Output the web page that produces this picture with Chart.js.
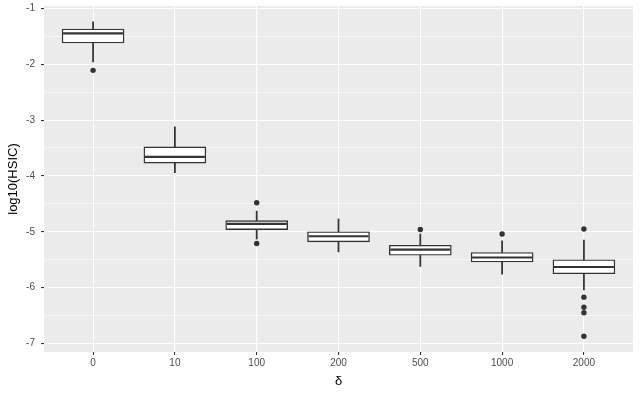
<!DOCTYPE html>
<html>
<head>
<meta charset="utf-8">
<script src="https://cdn.jsdelivr.net/npm/chart.js@4"></script>
<style>
  html, body { margin: 0; padding: 0; background: #fff; }
  #wrap { width: 641px; height: 396px; }
</style>
</head>
<body>
<div id="wrap"><canvas id="c" width="641" height="396"></canvas></div>
<script>
// ═══ DATA ═══
const categories = ["0", "10", "100", "200", "500", "1000", "2000"];
const whiskerLow = [-1.96, -3.94, -5.13, -5.36, -5.62, -5.76, -6.04];
const q1         = [-1.62, -3.77, -4.96, -5.18, -5.42, -5.54, -5.75];
const median     = [-1.45, -3.66, -4.86, -5.08, -5.32, -5.46, -5.63];
const q3         = [-1.37, -3.48, -4.80, -5.00, -5.24, -5.37, -5.50];
const whiskerHigh= [-1.24, -3.12, -4.63, -4.77, -5.04, -5.16, -5.15];
const outliers   = [[-2.11], [], [-4.48, -5.21], [], [-4.96], [-5.04], [-4.95, -6.17, -6.35, -6.45, -6.87]];
const yTicks     = [-7, -6.5, -6, -5.5, -5, -4.5, -4, -3.5, -3, -2.5, -2, -1.5, -1];

// ═══ STYLE ═══
const INK = "#333333";
const FONT = "'Liberation Sans', Arial, sans-serif";

// ggplot-like 5% expansion of the data range
const allVals = [...whiskerLow, ...whiskerHigh, ...outliers.flat()];
const lo = Math.min(...allVals), hi = Math.max(...allVals);
const pad = (hi - lo) * 0.05;

const idx = categories.map((_, i) => i);

const panelBg = {
  id: "panelBg",
  beforeDraw(chart) {
    const { ctx, chartArea: a } = chart;
    ctx.save();
    ctx.fillStyle = "#EBEBEB";
    ctx.fillRect(a.left, a.top, a.right - a.left, a.bottom - a.top);
    ctx.restore();
  }
};

new Chart(document.getElementById("c"), {
  type: "bar",
  data: {
    datasets: [
      // median line
      {
        type: "scatter", order: 0,
        data: idx.map(i => ({ x: i, y: median[i] })),
        pointStyle: "line", radius: 30, borderWidth: 2.2,
        borderColor: INK, backgroundColor: INK
      },
      // outliers
      {
        type: "scatter", order: 0,
        data: outliers.flatMap((arr, i) => arr.map(v => ({ x: i, y: v }))),
        pointStyle: "circle", radius: 2.7, borderWidth: 0,
        backgroundColor: INK
      },
      // box
      {
        order: 1, grouped: false,
        data: idx.map(i => ({ x: i, y: [q1[i], q3[i]] })),
        backgroundColor: "#FFFFFF", borderColor: INK, borderWidth: 1.4,
        borderSkipped: false, barThickness: 62
      },
      // whiskers
      {
        order: 2, grouped: false,
        data: idx.map(i => ({ x: i, y: [whiskerLow[i], q1[i]] })),
        backgroundColor: INK, borderWidth: 0, barThickness: 1.1
      },
      {
        order: 2, grouped: false,
        data: idx.map(i => ({ x: i, y: [q3[i], whiskerHigh[i]] })),
        backgroundColor: INK, borderWidth: 0, barThickness: 1.1
      }
    ]
  },
  options: {
    responsive: false,
    animation: false,
    events: [],
    layout: { autoPadding: false, padding: { left: 0, right: 8, top: 6, bottom: 0 } },
    plugins: { legend: { display: false }, tooltip: { enabled: false } },
    scales: {
      x: {
        type: "linear",
        offset: false,
        min: -0.6, max: categories.length - 0.4,
        afterBuildTicks: s => { s.ticks = idx.map(v => ({ value: v })); },
        afterFit: s => { s.height = 44; s.paddingLeft = 0; s.paddingRight = 0; },
        border: { display: false },
        grid: { offset: false, color: "#FFFFFF", lineWidth: 1.1, tickColor: INK, tickLength: 3, tickWidth: 1.1 },
        ticks: {
          callback: v => categories[v] ?? "",
          color: "#4D4D4D", font: { size: 10, family: FONT }, padding: 2,
          maxRotation: 0, autoSkip: false
        },
        title: {
          display: true, text: "δ", color: "#000",
          font: { size: 13, family: FONT }, padding: { top: 0, bottom: 7 }
        }
      },
      y: {
        min: lo - pad, max: hi + pad,
        afterBuildTicks: s => { s.ticks = yTicks.map(v => ({ value: v })); },
        afterFit: s => { s.width = 44; s.paddingTop = 0; s.paddingBottom = 0; },
        border: { display: false },
        grid: {
          color: "#FFFFFF",
          lineWidth: c => (c.tick && c.tick.value % 1 === 0) ? 1.1 : 0.55,
          tickColor: c => (c.tick && c.tick.value % 1 === 0) ? INK : "rgba(0,0,0,0)",
          tickLength: 3, tickWidth: 1.1
        },
        ticks: {
          callback: v => (v % 1 === 0 ? String(v) : ""),
          color: "#4D4D4D", font: { size: 10, family: FONT }, padding: 6,
          autoSkip: false
        },
        title: {
          display: true, text: "log10(HSIC)", color: "#000",
          font: { size: 13, family: FONT }, padding: { top: 6, bottom: 0 }
        }
      }
    }
  },
  plugins: [panelBg]
});
</script>
</body>
</html>
